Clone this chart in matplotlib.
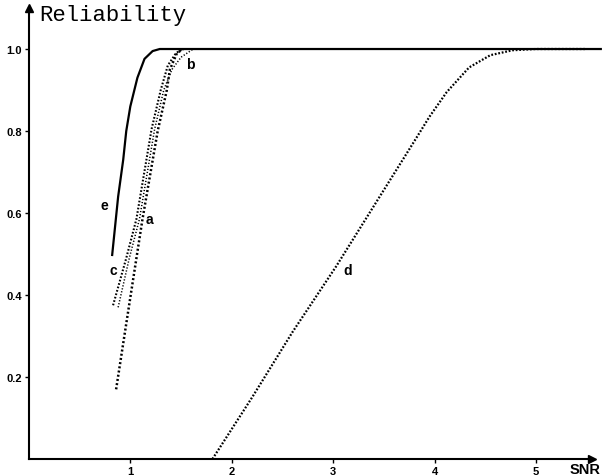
import matplotlib
matplotlib.use("Agg")
from matplotlib import pyplot as plt

# Reliability vs SNR
snr_e = [0.82, 0.88, 0.93, 0.96, 1.00, 1.07, 1.14, 1.22, 1.29, 1.40, 5.65]
rel_e = [0.495, 0.64, 0.73, 0.80, 0.86, 0.93, 0.976, 0.995, 1.0, 1.0, 1.0]

snr_a = [0.86, 0.985, 1.12, 1.27, 1.36, 1.39, 1.46, 1.52]
rel_a = [0.17, 0.37, 0.585, 0.80, 0.90, 0.95, 0.99, 1.0]

snr_c = [0.83, 0.96, 1.06, 1.21, 1.30, 1.37, 1.45, 1.52]
rel_c = [0.375, 0.49, 0.585, 0.805, 0.90, 0.96, 0.99, 1.0]

snr_b = [0.88, 0.99, 1.09, 1.24, 1.33, 1.41, 1.50, 1.62]
rel_b = [0.37, 0.49, 0.585, 0.805, 0.90, 0.95, 0.98, 1.0]

snr_d = [1.81, 2.20, 2.60, 3.03, 3.56, 3.80, 3.95, 4.12, 4.34, 4.55, 4.77, 5.00, 5.50]
rel_d = [0.0, 0.15, 0.31, 0.47, 0.68, 0.775, 0.835, 0.895, 0.955, 0.985, 0.997, 1.0, 1.0]

# curve labels: (text, snr, reliability)
curve_labels = [("e", 0.74, 0.62), ("a", 1.19, 0.585), ("c", 0.83, 0.46),
                ("b", 1.59, 0.963), ("d", 3.14, 0.46)]

xticks = [1, 2, 3, 4, 5]
yticks = [0.2, 0.4, 0.6, 0.8, 1.0]

fig = plt.figure(figsize=(6.02, 4.77), dpi=100)
ax = fig.add_axes([0.048, 0.0356, 0.935, 0.9455])
ax.set_xlim(0, 5.55)
ax.set_ylim(0, 1.1)

ax.plot(snr_e, rel_e, c='black', lw=1.6, solid_capstyle='butt', clip_on=False)
ax.plot(snr_a, rel_a, c='black', lw=1.8, ls=(0, (0.8, 0.9)))
ax.plot(snr_c, rel_c, c='black', lw=1.5, ls=(0, (0.8, 0.9)))
ax.plot(snr_b, rel_b, c='black', lw=1.1, ls=(0, (0.8, 1.2)))
ax.plot(snr_d, rel_d, c='black', lw=1.6, ls=(0, (0.8, 0.8)))

for txt, x, y in curve_labels:
    ax.text(x, y, txt, fontsize=10, fontweight='bold', family='Liberation Sans',
            ha='center', va='center')

# axes with arrow heads
for side in ['top', 'right']:
    ax.spines[side].set_visible(False)
for side in ['left', 'bottom']:
    ax.spines[side].set_linewidth(1.5)
ax.plot(1, 0, '>k', ms=6, transform=ax.transAxes, clip_on=False)
ax.plot(0, 1, '^k', ms=6, transform=ax.transAxes, clip_on=False)

ax.set_xticks(xticks)
ax.set_xticklabels([str(t) for t in xticks])
ax.set_yticks(yticks)
ax.set_yticklabels(['%.1f' % t for t in yticks])
ax.tick_params(axis='both', which='major', length=3, width=1, labelsize=8, pad=2)
for lab in ax.get_xticklabels() + ax.get_yticklabels():
    lab.set_fontweight('bold')
    lab.set_family('Liberation Sans')

fig.text(0.066, 0.968, 'Reliability', fontsize=16, family='Liberation Mono',
         ha='left', va='center')
fig.text(0.998, 0.030, 'SNR', fontsize=10.5, fontweight='bold',
         family='Liberation Sans', ha='right', va='top')

fig.savefig('out.png', dpi=100)
